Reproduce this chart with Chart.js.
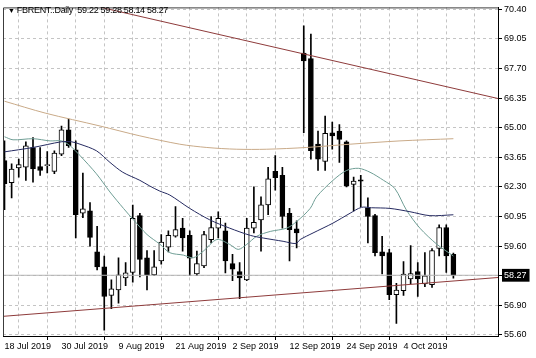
<!DOCTYPE html>
<html>
<head>
<meta charset="utf-8">
<script src="https://cdn.jsdelivr.net/npm/chart.js@4.4.1/dist/chart.umd.min.js"></script>
<style>
  html, body { margin: 0; padding: 0; background: #fff; }
  #wrap { position: relative; width: 536px; height: 358px; }
  #title { position: absolute; left: 8px; top: 5px; font: 9px 'Liberation Sans', sans-serif; letter-spacing: -0.3px; color: #000; white-space: pre; }
  #title .tri { font-size: 7px; }
</style>
</head>
<body>
<div id="wrap">
  <canvas id="chart" width="536" height="358"></canvas>
  <div id="title"><span class="tri">▼</span> FBRENT..Daily  59.22 59.28 58.14 58.27</div>
</div>
<script>
// daily bars, 18 Jul 2019 .. 15 Oct 2019 (index = trading day)
const opens  = [63.50, 62.49, 63.17, 63.20, 64.10, 63.23, 63.27, 63.01, 63.80, 64.90,
                63.99, 61.10, 61.21, 59.34, 58.65, 57.35, 57.60, 58.15, 58.40, 60.99,
                59.07, 58.29, 58.92, 59.55, 60.05, 60.42, 60.09, 58.33, 58.70, 59.90,
                60.42, 60.30, 58.80, 58.44, 58.06, 60.42, 60.80, 61.48, 63.01, 62.83,
                61.10, 60.39, 68.41, 68.15, 64.25, 63.46, 64.77, 64.85, 64.36, 62.42,
                62.62, 61.35, 60.99, 59.34, 59.30, 57.39, 57.57, 58.10, 58.44, 57.88,
                57.84, 59.49, 60.45, 59.22];
const highs  = [64.40, 63.35, 63.57, 64.36, 64.55, 64.10, 63.91, 63.95, 65.08, 65.40,
                64.40, 62.93, 61.59, 60.50, 59.15, 58.06, 59.07, 58.85, 61.47, 61.10,
                59.40, 59.40, 60.13, 60.30, 61.40, 60.87, 60.30, 59.37, 60.27, 60.95,
                61.17, 60.65, 59.22, 58.85, 60.87, 62.30, 61.85, 63.20, 63.73, 63.20,
                61.32, 60.75, 69.65, 69.27, 64.85, 65.53, 65.26, 65.15, 64.40, 62.75,
                62.83, 61.80, 61.05, 60.05, 59.45, 57.90, 58.89, 59.63, 58.85, 59.30,
                59.49, 60.57, 60.57, 59.28];
const lows   = [61.26, 61.80, 62.75, 62.60, 62.52, 62.83, 62.94, 62.90, 63.73, 64.10,
                59.97, 60.90, 59.60, 58.51, 55.77, 56.75, 57.00, 57.80, 57.95, 58.20,
                57.60, 58.25, 58.78, 59.34, 60.01, 59.37, 58.25, 58.25, 58.62, 59.75,
                59.97, 58.38, 58.02, 57.20, 58.02, 60.20, 59.37, 61.03, 62.15, 60.42,
                58.92, 59.52, 64.77, 63.57, 63.05, 63.05, 64.02, 63.42, 62.30, 61.21,
                61.40, 59.75, 59.15, 58.33, 57.16, 56.07, 57.35, 57.88, 57.30, 57.75,
                57.72, 59.15, 58.40, 58.14];
const closes = [62.45, 63.12, 63.32, 64.18, 63.12, 63.05, 63.30, 63.84, 64.90, 64.18,
                61.03, 61.30, 60.00, 58.65, 57.30, 57.65, 58.29, 58.38, 60.87, 58.99,
                58.29, 58.65, 59.78, 60.09, 60.35, 59.97, 59.05, 58.80, 60.13, 60.45,
                60.87, 58.92, 58.55, 58.15, 60.42, 60.69, 61.48, 62.67, 62.72, 60.95,
                60.35, 60.20, 68.05, 63.95, 63.57, 64.74, 64.63, 64.47, 62.34, 62.57,
                62.56, 60.95, 59.30, 59.15, 57.39, 57.60, 58.33, 58.35, 58.10, 58.25,
                59.40, 60.45, 59.15, 58.27];

// moving averages: [bar index, price]
const maFast = [[0, 64.59], [1.2, 64.45], [4, 64.50], [6.4, 64.40], [8, 64.40], [9.2, 64.18],
                [10.6, 63.73], [12.9, 62.90], [14.8, 62.07], [16.7, 61.32], [18.1, 60.80],
                [20, 60.13], [21.8, 59.69], [23.2, 59.30], [25.1, 59.19], [26.5, 59.07],
                [27.9, 59.37], [29.8, 59.90], [31.6, 59.68], [32.8, 59.45], [34, 59.68],
                [35.4, 60.05], [37.3, 60.27], [39.6, 60.42], [41, 60.72], [42.9, 61.32],
                [43.8, 61.85], [46.1, 62.60], [48, 63.05], [49.7, 63.15], [51.3, 62.97],
                [53.2, 62.60], [54.8, 62.22], [56.4, 61.25], [58.3, 60.42], [60.7, 59.68],
                [63, 59.15]];
const maMid  = [[0, 63.90], [4, 64.10], [8, 64.36], [9.4, 64.36], [10.6, 64.25], [12.9, 63.95],
                [14.8, 63.42], [16.6, 62.97], [19, 62.60], [20.4, 62.34], [21.8, 62.11],
                [23.2, 61.93], [26, 61.32], [28.8, 60.80], [31.6, 60.42], [34.5, 60.09],
                [36.3, 59.97], [39.1, 59.82], [40.9, 59.72], [41.5, 59.90], [43.3, 60.20],
                [46.1, 60.65], [48.5, 61.10], [50.1, 61.37], [51.5, 61.35], [54.1, 61.32],
                [56.9, 61.17], [59.7, 60.99], [63, 61.03]];
const maSlow = [[0, 66.21], [5.7, 65.67], [13.4, 65.08], [19, 64.63], [24.6, 64.25],
                [28.4, 64.10], [32.6, 64.02], [36.8, 64.02], [42.4, 64.10], [48.5, 64.25],
                [55.5, 64.40], [63, 64.50]];

// trend lines: [bar index, price]
const trendUpper = [[13.4, 70.50], [69.3, 66.33]];
const trendLower = [[-0.1, 56.40], [69.3, 58.17]];

const dateLabels = ['18 Jul 2019', '30 Jul 2019', '9 Aug 2019', '21 Aug 2019',
                    '2 Sep 2019', '12 Sep 2019', '24 Sep 2019', '4 Oct 2019'];
const priceTicks  = [70.40, 69.05, 67.70, 66.35, 65.00, 63.65, 62.30, 60.95, 59.60, 58.27, 56.90, 55.55];
const priceLabels = ['70.40', '69.05', '67.70', '66.35', '65.00', '63.65', '62.30', '60.95', '59.60', '58.27', '56.90', '55.60'];
const lastPrice = 58.27;

const toPts = (arr) => arr.map(([x, y]) => ({ x, y }));
const idx = opens.map((_, i) => i);

const framePlugin = {
  id: 'frame',
  afterDraw(chart) {
    const { ctx, chartArea: a } = chart;
    ctx.save();
    ctx.strokeStyle = '#3c3c3c';
    ctx.lineWidth = 1;
    ctx.beginPath();
    ctx.moveTo(a.left + 0.5, a.bottom);
    ctx.lineTo(a.left + 0.5, a.top + 0.5);
    ctx.lineTo(a.right, a.top + 0.5);
    ctx.stroke();
    ctx.restore();
  }
};

const lineBase = { type: 'line', pointRadius: 0, borderWidth: 1, fill: false, order: 0 };

new Chart(document.getElementById('chart'), {
  type: 'bar',
  data: {
    datasets: [
      { ...lineBase, data: toPts([[-1, lastPrice], [70, lastPrice]]), borderColor: '#b4b4b4' },
      { ...lineBase, data: toPts(trendUpper), borderColor: '#8e3b3b' },
      { ...lineBase, data: toPts(trendLower), borderColor: '#8e3b3b' },
      { ...lineBase, data: toPts(maSlow), borderColor: '#c9aa88', tension: 0.3 },
      { ...lineBase, data: toPts(maMid), borderColor: '#252a60', tension: 0.3 },
      { ...lineBase, data: toPts(maFast), borderColor: '#6f9e95', tension: 0.3 },
      {
        data: idx.map((i) => ({ x: i, y: [Math.min(opens[i], closes[i]), Math.max(opens[i], closes[i])] })),
        backgroundColor: (c) => closes[c.dataIndex] >= opens[c.dataIndex] ? '#ffffff' : '#000000',
        borderColor: '#000000',
        borderWidth: 1,
        borderSkipped: false,
        minBarLength: 1,
        barThickness: 5,
        grouped: false,
        order: 1
      },
      {
        data: idx.map((i) => ({ x: i, y: [lows[i], highs[i]] })),
        backgroundColor: '#000000',
        borderWidth: 0,
        barThickness: 1,
        grouped: false,
        order: 2
      }
    ]
  },
  options: {
    responsive: false,
    animation: false,
    devicePixelRatio: 1,
    layout: { padding: { left: 3, top: 3, right: 0, bottom: 0 } },
    plugins: { legend: { display: false }, tooltip: { enabled: false } },
    scales: {
      x: {
        type: 'linear',
        min: -0.21,
        max: 69.26,
        offset: false,
        afterBuildTicks: (s) => { s.ticks = []; for (let v = 0; v <= 68; v += 4) s.ticks.push({ value: v }); },
        afterFit: (s) => { s.height = 22; },
        ticks: {
          autoSkip: false,
          maxRotation: 0,
          align: 'start',
          padding: 1,
          color: '#000',
          font: { family: 'Liberation Sans', size: 9 },
          callback: (v) => (v % 8 === 0 ? dateLabels[v / 8] || '' : '')
        },
        grid: {
          color: '#c4c4c4',
          tickLength: 4,
          tickColor: (c) => (c.tick && c.tick.value % 8 === 0 ? '#000' : 'rgba(0,0,0,0)')
        },
        border: { color: '#000', dash: [3, 3] }
      },
      y: {
        type: 'linear',
        position: 'right',
        min: 55.5,
        max: 70.49,
        afterBuildTicks: (s) => { s.ticks = priceTicks.map((v) => ({ value: v })); },
        afterFit: (s) => { s.width = 38; },
        ticks: {
          padding: 2,
          color: (c) => (c.tick && c.tick.value === lastPrice ? '#fff' : '#000'),
          font: { family: 'Liberation Sans', size: 9 },
          showLabelBackdrop: true,
          backdropColor: (c) => (c.tick && c.tick.value === lastPrice ? '#000' : 'rgba(0,0,0,0)'),
          backdropPadding: { left: 2, right: 3, top: 1, bottom: 1 },
          callback: (v, i) => priceLabels[i]
        },
        grid: { color: '#c4c4c4', tickLength: 4, tickColor: '#000' },
        border: { color: '#000', dash: [3, 3] }
      }
    }
  },
  plugins: [framePlugin]
});
</script>
</body>
</html>
